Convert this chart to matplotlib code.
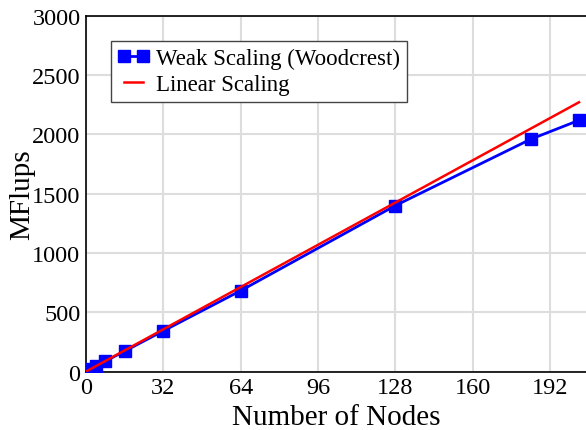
import matplotlib
matplotlib.use("Agg")
import matplotlib.pyplot as plt

# measured weak scaling on Woodcrest nodes
nodes = [1, 2, 4, 8, 16, 32, 64, 128, 184, 204]
mflups = [10, 22, 44, 87, 172, 343, 682, 1400, 1960, 2120]

# ideal linear scaling reference
lin_nodes = [0, 204]
lin_mflups = [0, 2272]

xticks = [0, 32, 64, 96, 128, 160, 192]
yticks = [0, 500, 1000, 1500, 2000, 2500, 3000]

plt.rcParams['font.family'] = ['Liberation Serif', 'DejaVu Serif']

fig = plt.figure(figsize=(5.86, 4.31), dpi=100)
ax = fig.add_axes([0.1468, 0.1357, 0.8532, 0.8249])

ax.plot(nodes, mflups, color='blue', lw=2, marker='s', markersize=9,
        label='Weak Scaling (Woodcrest)', zorder=3)
ax.plot(lin_nodes, lin_mflups, color='red', lw=1.8, label='Linear Scaling', zorder=4)

ax.set_xlim(0, 206.9)
ax.set_ylim(0, 3000)
ax.set_xticks(xticks)
ax.set_yticks(yticks)
ax.tick_params(length=0, labelsize=17.5, pad=4)
ax.grid(True, color='#dddddd', lw=1.5)
ax.set_axisbelow(True)
ax.spines['right'].set_visible(False)
for s in ['left', 'bottom', 'top']:
    ax.spines[s].set_linewidth(1.2)

ax.set_xlabel('Number of Nodes', fontsize=21, labelpad=4)
ax.set_ylabel('MFlups', fontsize=21, labelpad=-2)

leg = ax.legend(loc='upper left', bbox_to_anchor=(0.049, 0.93), fontsize=16.5,
                fancybox=False, framealpha=1, edgecolor='#444444',
                numpoints=2, handlelength=1.4, handletextpad=0.3, borderpad=0.3,
                labelspacing=0.22, borderaxespad=0)
leg.get_frame().set_linewidth(1.0)

plt.savefig('out.png', dpi=100)
